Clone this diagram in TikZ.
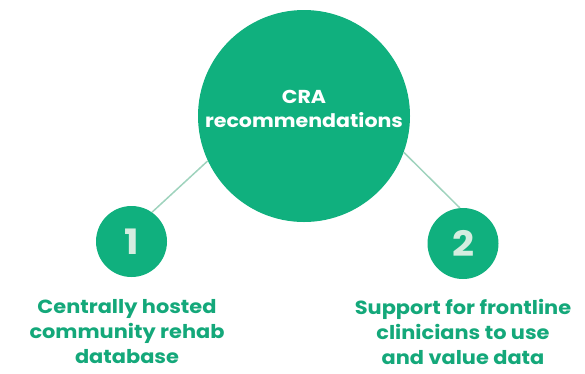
\documentclass[tikz,border=0pt]{standalone}
\usepackage{fontspec}
\setmainfont{Poppins}[FakeStretch=1.1]
\definecolor{craGreen}{HTML}{10B07E}
\definecolor{craText}{HTML}{14A87A}
\definecolor{craLine}{HTML}{9FD3BD}
\definecolor{craPale}{HTML}{D5EDE0}
\tikzset{
  hub/.style = {circle, fill = craGreen, minimum size = 212pt, inner sep = 0pt},
  hubtext/.style = {text = white, font = \bfseries\fontsize{18.7}{24}\selectfont, align = center},
  numdisc/.style = {circle, fill = craGreen, minimum size = 71pt, inner sep = 0pt, text = craPale, font = \bfseries\fontsize{35}{35}\selectfont},
  caption/.style = {text = craText, font = \bfseries\fontsize{19}{25}\selectfont, align = center},
  spoke/.style = {draw = craLine, line width = 1.5pt}
}
\begin{document}
\begin{tikzpicture}[x = 1pt, y = -1pt]
\useasboundingbox (0,0) rectangle (585,373);
\node[hub] (hub) at (304,116) {};
\node[hubtext] (hublabel) at (304,109) {CRA\\recommendations};
\node[numdisc] (one) at (131.5,241.5) {1};
\node[numdisc] (two) at (463,243.5) {2};
\draw[spoke] (hub.205) -- (one.55);
\draw[spoke] (hub.340) -- (two.95);
\node[caption] (capone) at (127,331.5) {Centrally hosted\\community rehab\\database};
\node[caption] (captwo) at (463,331.5) {Support for frontline\\clinicians to use\\and value data};
\end{tikzpicture}
\end{document}
